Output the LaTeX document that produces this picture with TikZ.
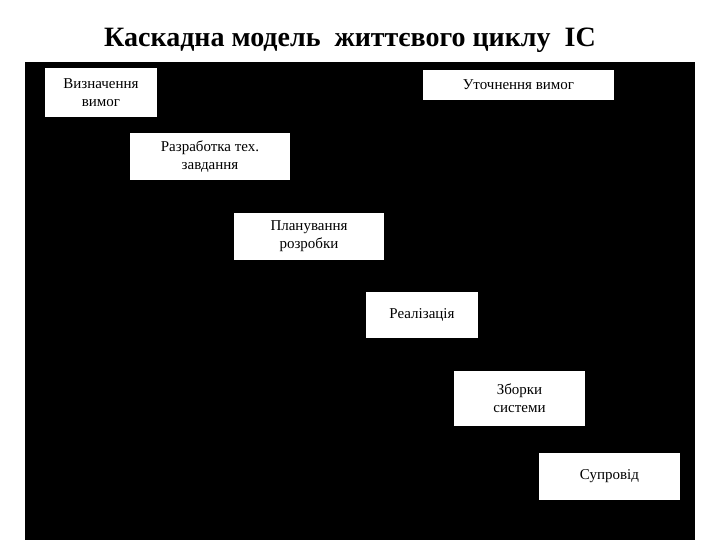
\documentclass[tikz,border=0pt]{standalone}
\usepackage{fontspec}
\setmainfont{Liberation Serif}
\begin{document}
\begin{tikzpicture}[x=1pt,y=-1pt,
 stage/.style={fill=white,draw=none,align=center,font=\fontsize{15}{18}\selectfont,inner sep=0pt},
 link/.style={draw=black,-latex,line width=1pt}]
\useasboundingbox (0,0) rectangle (720,540);
\fill[white] (0,0) rectangle (720,540);
\node[font=\bfseries\fontsize{28}{32}\selectfont] (title) at (350,40) {Каскадна модель\ \ життєвого циклу\ \ ІС};
\fill[black] (25,62) rectangle (695,540);
\node[stage,minimum width=112,minimum height=49] (a) at (101,92.5) {Визначення\\вимог};
\node[stage,minimum width=191,minimum height=30] (b) at (518.5,85) {Уточнення вимог};
\node[stage,minimum width=160,minimum height=47] (c) at (210,156.5) {Разработка тех.\\завдання};
\node[stage,minimum width=150,minimum height=47] (d) at (309,236.5) {Планування\\розробки};
\node[stage,minimum width=112,minimum height=46] (e) at (422,315) {Реалізація};
\node[stage,minimum width=131,minimum height=55] (f) at (519.5,398.5) {Зборки\\системи};
\node[stage,minimum width=141,minimum height=47] (g) at (609.5,476.5) {Супровід};
\draw[link] (a.east) -| (c.north);
\draw[link] (c.east) -| (d.north);
\draw[link] (d.east) -| (e.north);
\draw[link] (e.east) -| (f.north);
\draw[link] (f.east) -| (g.north);
\draw[link] (g.east) -- ++(8,0) |- (b.east);
\end{tikzpicture}
\end{document}
